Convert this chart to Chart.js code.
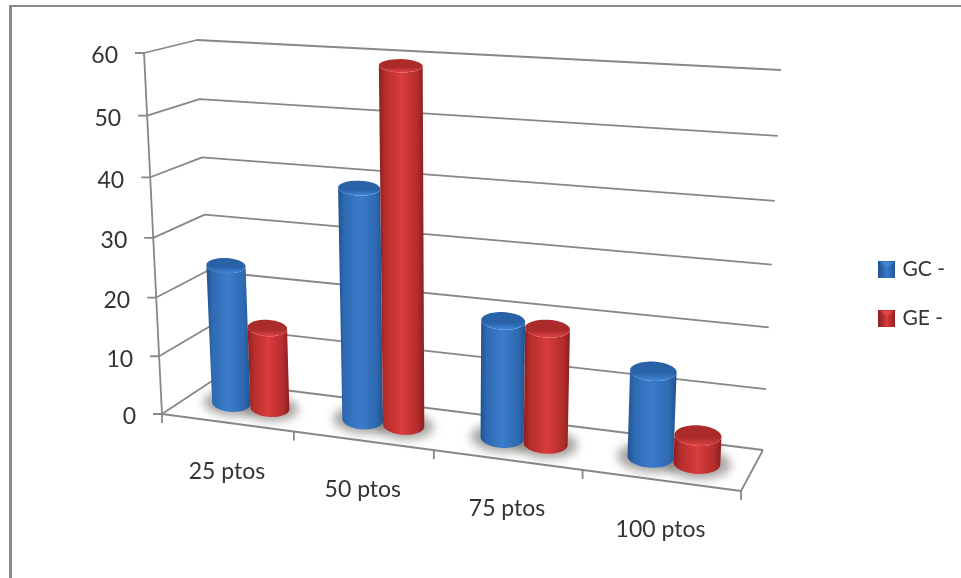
<!DOCTYPE html>
<html>
<head>
<meta charset="utf-8">
<script src="https://cdn.jsdelivr.net/npm/chart.js@4"></script>
<style>
    html, body { margin: 0; background: #fff; overflow: hidden; }
    #wrap { position: relative; width: 961px; height: 578px; }
    #frame { position: absolute; left: 9px; top: 5px; right: 0; bottom: 0; border-left: 3px solid #8a8a8a; border-top: 2px solid #8a8a8a; }
    canvas { position: absolute; left: 0; top: 0; }
</style>
</head>
<body>
<div id="wrap">
    <div id="frame"></div>
    <canvas id="cylinderChart" width="961" height="578"></canvas>
</div>
<script>
const categories = ['25 ptos', '50 ptos', '75 ptos', '100 ptos'];
const seriesNames = ['GC -', 'GE -'];
const gcValues = [24, 39, 19.5, 14];
const geValues = [14, 59, 19, 4.5];
const valueTicks = [0, 10, 20, 30, 40, 50, 60];

const TEXT_COLOR = '#333333';
const LINE_COLOR = '#878787';
const FONT = 'Lato, "Noto Sans", sans-serif';

// corners of the 3D box on screen: floor (0) and top (1), front and back
const box = {
    fl0: [162, 414], fr0: [741, 491], br0: [763, 450], bl0: [212, 381],
    fl1: [144, 53], fr1: [761, 90], br1: [781, 70], bl1: [197, 40]
};

function lerp(a, b, t) {
    return [a[0] + (b[0] - a[0]) * t, a[1] + (b[1] - a[1]) * t];
}

// foreshortening along one axis
function persp(t, k) {
    return t / (1 + k * (1 - t));
}

// u along the categories, v up the values, d into the depth, all 0..1
function project(u, v, d) {
    const pu = persp(u, 0.13);
    const pv = persp(v, 0.05);
    const floor = lerp(lerp(box.fl0, box.fr0, pu), lerp(box.bl0, box.br0, pu), d);
    const top = lerp(lerp(box.fl1, box.fr1, pu), lerp(box.bl1, box.br1, pu), d);
    return lerp(floor, top, pv);
}

// adds the points to the current path, starting a new subpath only if asked
function tracePath(ctx, pts, joined) {
    pts.forEach(function (p, i) {
        if (i === 0 && !joined) ctx.moveTo(p[0], p[1]);
        else ctx.lineTo(p[0], p[1]);
    });
}

function line(ctx, points) {
    ctx.beginPath();
    tracePath(ctx, points);
    ctx.stroke();
}

// a cylinder cross-section seen from above: flatter the higher it sits, slightly sheared with the floor
function ring(u, v, ru, scale, from, to) {
    const a = project(u - ru, v, 0.5);
    const b = project(u + ru, v, 0.5);
    const cx = (a[0] + b[0]) / 2;
    const cy = (a[1] + b[1]) / 2;
    const rx = (b[0] - a[0]) / 2 * scale;
    const ry = rx * (0.45 - 0.15 * v);
    const tilt = 0.4 * (b[1] - a[1]) / (b[0] - a[0]);
    const pts = [];
    for (let i = 0; i <= 32; i++) {
        const t = from + (to - from) * i / 32;
        const dx = Math.cos(t) * rx;
        pts.push([cx + dx, cy + Math.sin(t) * ry + dx * tilt]);
    }
    return pts;
}

const palettes = [
    { edge: '#21528f', mid: '#2f6ab2', light: '#3a7ccc', top: '#2a62a8', rim: '#3f86d8' },
    { edge: '#8c1e1e', mid: '#b52d2d', light: '#d93c3c', top: '#ab2a2a', rim: '#e24444' }
];

function drawShadow(ctx, u, ru) {
    ctx.save();
    ctx.filter = 'blur(5px)';
    ctx.fillStyle = 'rgba(120, 115, 110, 0.65)';
    ctx.beginPath();
    tracePath(ctx, ring(u, 0, ru, 1.45, 0, Math.PI * 2));
    ctx.fill();
    ctx.restore();
}

function drawCylinder(ctx, u, v, ru, pal) {
    const topAll = ring(u, v, ru, 1, 0, Math.PI * 2);
    const baseFront = ring(u, 0, ru, 1, Math.PI, 0);
    const topBack = ring(u, v, ru, 1, 0, Math.PI);

    const left = Math.min(baseFront[0][0], topBack[32][0]);
    const right = Math.max(baseFront[32][0], topBack[0][0]);
    const grad = ctx.createLinearGradient(left, 0, right, 0);
    grad.addColorStop(0, pal.edge);
    grad.addColorStop(0.14, pal.mid);
    grad.addColorStop(0.5, pal.light);
    grad.addColorStop(0.84, pal.mid);
    grad.addColorStop(1, pal.edge);

    ctx.beginPath();
    tracePath(ctx, baseFront);
    tracePath(ctx, topBack, true);
    ctx.closePath();
    ctx.fillStyle = grad;
    ctx.fill();

    const ys = topAll.map(function (p) { return p[1]; });
    const topGrad = ctx.createLinearGradient(0, Math.min.apply(null, ys), 0, Math.max.apply(null, ys));
    topGrad.addColorStop(0, pal.top);
    topGrad.addColorStop(0.6, pal.top);
    topGrad.addColorStop(1, pal.rim);
    ctx.beginPath();
    tracePath(ctx, topAll);
    ctx.closePath();
    ctx.fillStyle = topGrad;
    ctx.fill();
}

// Draws the axes box and cylinders through the projection, from the scales and bar elements
const cylinderPlugin = {
    id: 'cylinders',
    beforeDatasetsDraw(chart) {
        const ctx = chart.ctx;
        const area = chart.chartArea;
        const yScale = chart.scales.y;
        const norm = function (value) {
            return (area.bottom - yScale.getPixelForValue(value)) / area.height;
        };

        ctx.save();
        ctx.strokeStyle = LINE_COLOR;
        ctx.lineWidth = 1.8;
        ctx.lineJoin = 'round';

        // walls and value ticks
        valueTicks.forEach(function (tick) {
            const v = norm(tick);
            const a = project(0, v, 0);
            line(ctx, [[a[0] - 9, a[1]], a, project(0, v, 1), project(1, v, 1)]);
            ctx.fillStyle = TEXT_COLOR;
            ctx.font = '23px ' + FONT;
            ctx.textAlign = 'right';
            ctx.textBaseline = 'middle';
            ctx.fillText(String(tick), a[0] - 26, a[1] + 3);
        });
        line(ctx, [project(0, 1, 0), project(0, 0, 0)]);

        // floor outline and category ticks
        line(ctx, [project(0, 0, 0), project(1, 0, 0), project(1, 0, 1)]);
        categories.concat(['']).forEach(function (name, i) {
            const p = project(i / categories.length, 0, 0);
            line(ctx, [p, [p[0], p[1] + 9]]);
        });
        categories.forEach(function (name, i) {
            const p = project((i + 0.5) / categories.length, 0, 0);
            ctx.fillStyle = TEXT_COLOR;
            ctx.font = '23px ' + FONT;
            ctx.textAlign = 'center';
            ctx.textBaseline = 'middle';
            ctx.fillText(name, p[0], p[1] + 49);
        });

        // shadows first, then the cylinders left to right
        const bars = [];
        chart.data.labels.forEach(function (label, i) {
            chart.data.datasets.forEach(function (ds, d) {
                const el = chart.getDatasetMeta(d).data[i];
                bars.push({
                    u: (el.x - area.left) / area.width,
                    v: (el.base - el.y) / area.height,
                    ru: el.width / 2 / area.width,
                    pal: palettes[d]
                });
            });
        });
        bars.forEach(function (b) {
            drawShadow(ctx, b.u, b.ru);
        });
        bars.forEach(function (b) {
            drawCylinder(ctx, b.u, b.v, b.ru, b.pal);
        });
        ctx.restore();
        return false;
    }
};

function legendIcon(pal) {
    const c = document.createElement('canvas');
    c.width = 17;
    c.height = 17;
    const g = c.getContext('2d');
    const grad = g.createLinearGradient(0, 0, 17, 0);
    grad.addColorStop(0, pal.edge);
    grad.addColorStop(0.5, pal.light);
    grad.addColorStop(1, pal.edge);
    g.fillStyle = grad;
    g.fillRect(0, 0, 17, 17);
    g.fillStyle = pal.rim;
    g.beginPath();
    g.moveTo(2, 1);
    g.lineTo(15, 1);
    g.lineTo(8.5, 7);
    g.closePath();
    g.fill();
    return c;
}

new Chart(document.getElementById('cylinderChart').getContext('2d'), {
    type: 'bar',
    data: {
        labels: categories,
        datasets: [
            { label: seriesNames[0], data: gcValues, backgroundColor: palettes[0].light },
            { label: seriesNames[1], data: geValues, backgroundColor: palettes[1].light }
        ]
    },
    options: {
        responsive: false,
        animation: false,
        categoryPercentage: 0.6,
        barPercentage: 1,
        layout: { padding: { right: 6, top: 10 } },
        scales: {
            x: { grid: { display: false }, border: { display: false }, ticks: { display: false } },
            y: {
                min: 0,
                max: 60,
                grid: { display: false },
                border: { display: false },
                ticks: { display: false, stepSize: 10 }
            }
        },
        plugins: {
            tooltip: { enabled: false },
            legend: {
                position: 'right',
                labels: {
                    usePointStyle: true,
                    boxWidth: 10,
                    boxHeight: 17,
                    padding: 28,
                    color: TEXT_COLOR,
                    font: { family: FONT, size: 21 },
                    generateLabels(chart) {
                        return chart.data.datasets.map(function (ds, i) {
                            return {
                                text: ds.label,
                                datasetIndex: i,
                                fontColor: TEXT_COLOR,
                                lineWidth: 0,
                                pointStyle: legendIcon(palettes[i])
                            };
                        });
                    }
                }
            }
        }
    },
    plugins: [cylinderPlugin]
});
</script>
</body>
</html>
